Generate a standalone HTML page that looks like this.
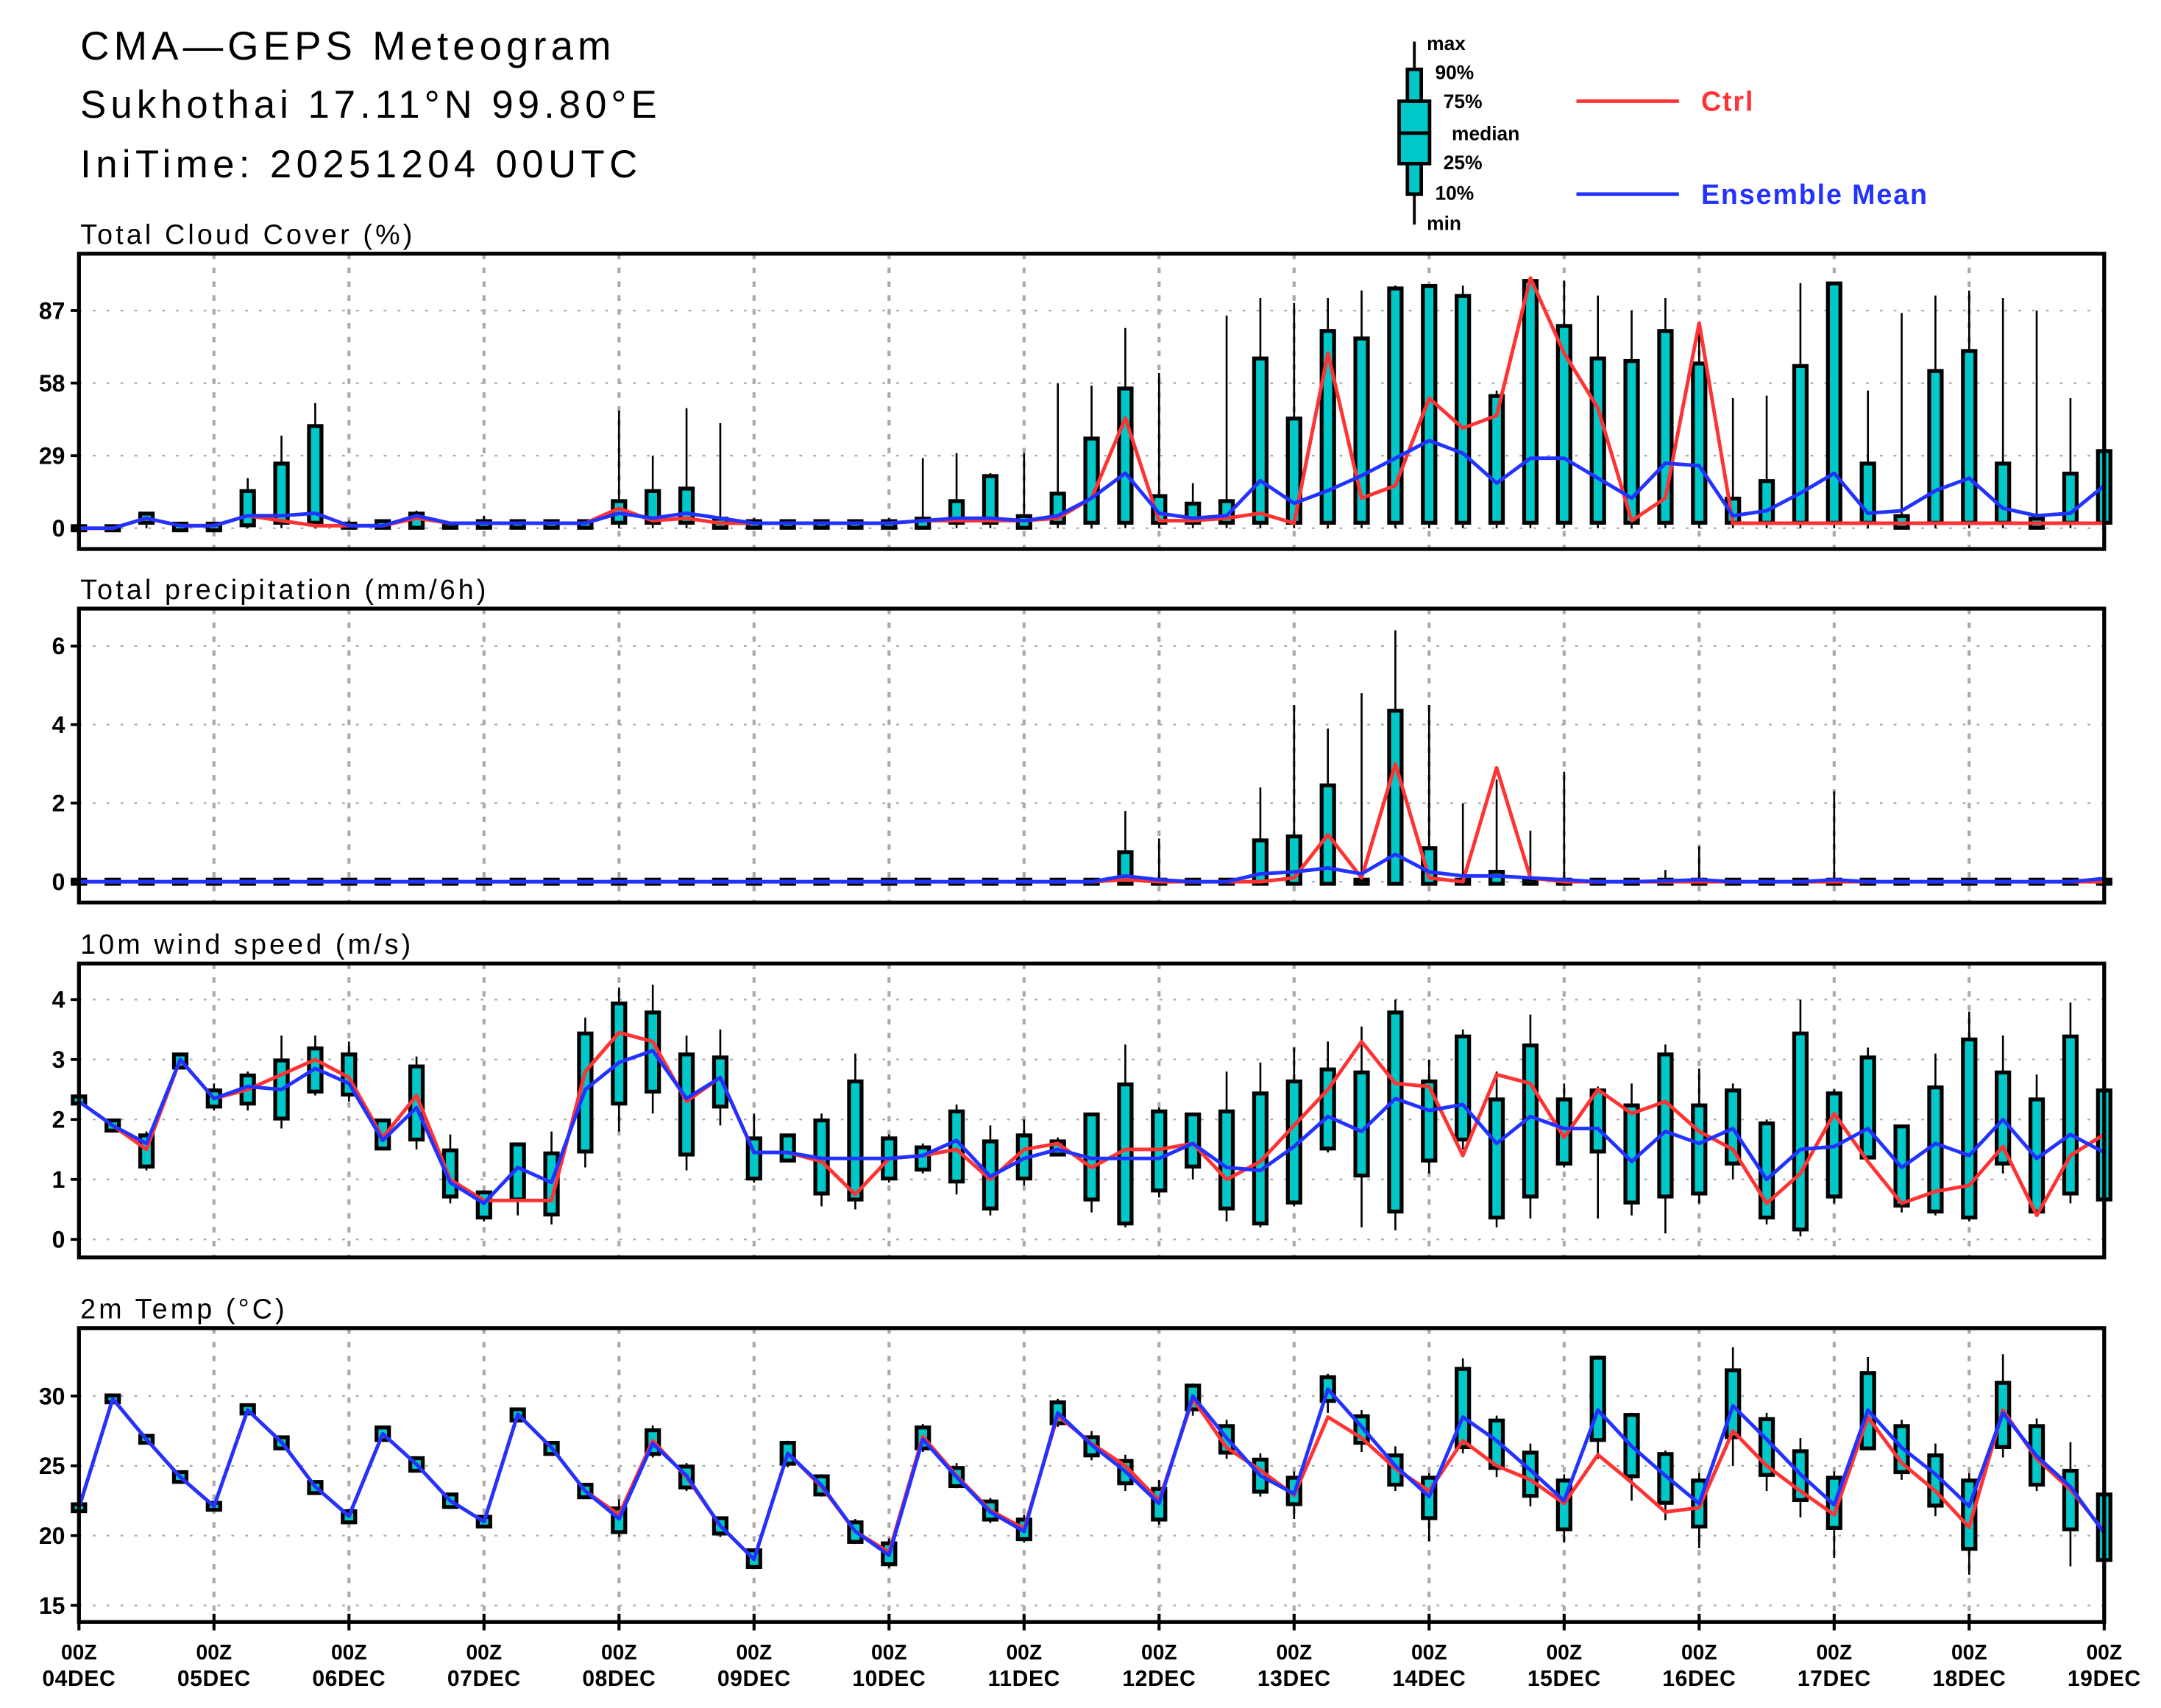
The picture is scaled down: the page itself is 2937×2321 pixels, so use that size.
<!DOCTYPE html>
<html><head><meta charset="utf-8"><style>
html,body{margin:0;padding:0;background:#fff;}
svg{display:block;font-family:"Liberation Sans",sans-serif;}
</style></head><body>
<svg id="chart" width="2937" height="2321" viewBox="0 0 1560 1232" preserveAspectRatio="none" xmlns="http://www.w3.org/2000/svg">
<text x="58" y="43" font-size="29" letter-spacing="3.2">CMA—GEPS Meteogram</text>
<text x="58" y="85" font-size="28" letter-spacing="3.2">Sukhothai 17.11°N 99.80°E</text>
<text x="58" y="128" font-size="28" letter-spacing="3.4">IniTime: 20251204 00UTC</text>
<g font-size="14" font-weight="bold">
<line x1="1021" y1="30" x2="1021" y2="162" stroke="#000" stroke-width="2"/>
<rect x="1016" y="50" width="10" height="90" fill="#00c8c8" stroke="#000" stroke-width="2.5"/>
<rect x="1010" y="73" width="22" height="45" fill="#00c8c8" stroke="#000" stroke-width="2.5"/>
<line x1="1010" y1="96" x2="1032" y2="96" stroke="#000" stroke-width="2.5"/>
<text x="1030" y="36">max</text><text x="1036" y="57">90%</text><text x="1042" y="78">75%</text>
<text x="1048" y="101">median</text><text x="1042" y="122">25%</text><text x="1036" y="144">10%</text><text x="1030" y="166">min</text>
</g>
<g><line x1="1138" y1="73" x2="1212" y2="73" stroke="#ff3333" stroke-width="2.5"/><text x="1228" y="80" font-size="20" font-weight="bold" fill="#ff3333" letter-spacing="1">Ctrl</text></g>
<g><line x1="1138" y1="140" x2="1212" y2="140" stroke="#2233ff" stroke-width="2.5"/><text x="1228" y="147" font-size="20" font-weight="bold" fill="#2233ff" letter-spacing="1">Ensemble Mean</text></g>
<g id="panels"></g>
</svg>
<script>
// ---- data (61 steps, 6-hourly from 04DEC 00Z) ----
const dayLabels=["04DEC","05DEC","06DEC","07DEC","08DEC","09DEC","10DEC","11DEC","12DEC","13DEC","14DEC","15DEC","16DEC","17DEC","18DEC","19DEC"];
const cloudTicks=[0,29,58,87];
const precipTicks=[0,2,4,6];
const windTicks=[0,1,2,3,4];
const tempTicks=[15,20,25,30];

const cloudCtrl=[0,0,4,1,1, 5,3,1,1,1, 4,2,2,2,2, 2,8,3,4,2, 2,2,2,2,2, 3,3,3,3,4, 12,44,3,3,4, 6,2,70,12,17, 52,40,45,100,70, 48,3,12,82,2, 2,2,2,2,2, 2,2,2,2,2, 2];
const cloudMean=[0,0,4,1,1, 5,5,6,1,1, 5,2,2,2,2, 2,6,4,6,4, 2,2,2,2,2, 3,4,4,3,5, 12,22,6,4,5, 19,10,15,21,28, 35,30,18,28,28, 20,12,26,25,5, 7,14,22,6,7, 15,20,8,5,6, 17];
const cloudMin=[0,0,0,0,0, 0,0,0,0,0, 0,0,0,0,0, 0,0,0,0,0, 0,0,0,0,0, 0,0,0,0,0, 0,0,0,0,0, 0,0,0,0,0, 0,0,0,0,0, 0,0,0,0,0, 0,0,0,0,0, 0,0,0,0,0, 0];
const cloudP25=[0,0,3,0,0, 2,3,3,1,1, 1,1,1,1,1, 1,3,3,3,1, 1,1,1,1,1, 1,3,3,1,3, 3,3,3,3,3, 3,3,3,3,3, 3,3,3,3,3, 3,3,3,3,3, 3,3,3,3,1, 3,3,3,1,3, 3];
const cloudP75=[0,0,5,1,1, 14,25,40,1,2, 5,1,2,2,2, 2,10,14,15,3, 2,2,2,2,2, 3,10,20,4,13, 35,55,12,9,10, 67,43,78,75,95, 96,92,52,98,80, 67,66,78,65,11, 18,64,97,25,4, 62,70,25,3,21, 30];
const cloudMax=[0,0,5,1,1, 20,37,50,3,2, 7,1,5,2,2, 2,47,29,48,42, 4,3,3,3,4, 28,30,22,30,58, 57,80,62,18,85, 92,90,92,95,97, 97,97,55,99,99, 93,87,92,82,52, 53,98,98,55,86, 93,95,92,87,52, 58];

const precCtrl=[0,0,0,0,0, 0,0,0,0,0, 0,0,0,0,0, 0,0,0,0,0, 0,0,0,0,0, 0,0,0,0,0, 0,0.05,0,0,0, 0,0.1,1.2,0.1,3.0, 0.1,0,2.9,0.1,0, 0,0,0,0,0, 0,0,0,0,0, 0,0,0,0,0, 0];
const precMean=[0,0,0,0,0, 0,0,0,0,0, 0,0,0,0,0, 0,0,0,0,0, 0,0,0,0,0, 0,0,0,0,0, 0,0.15,0.05,0,0, 0.2,0.25,0.35,0.2,0.7, 0.25,0.15,0.15,0.1,0.05, 0,0,0.02,0.05,0, 0,0,0.05,0,0, 0,0,0,0,0, 0.08];
const precMin=[0,0,0,0,0, 0,0,0,0,0, 0,0,0,0,0, 0,0,0,0,0, 0,0,0,0,0, 0,0,0,0,0, 0,0,0,0,0, 0,0,0,0,0, 0,0,0,0,0, 0,0,0,0,0, 0,0,0,0,0, 0,0,0,0,0, 0];
const precP25=precMin.slice();
const precP75=[0,0,0,0,0, 0,0,0,0,0, 0,0,0,0,0, 0,0,0,0,0, 0,0,0,0,0, 0,0,0,0,0, 0,0.7,0,0,0, 1.0,1.1,2.4,0,4.3, 0.8,0,0.2,0,0, 0,0,0,0,0, 0,0,0,0,0, 0,0,0,0,0, 0];
const precMax=[0,0,0,0,0, 0,0,0,0,0, 0,0,0,0,0, 0,0,0,0,0, 0,0,0,0,0, 0,0,0,0,0, 0,1.8,1.1,0,0, 2.4,4.5,3.9,4.8,6.4, 4.5,2.0,2.6,1.3,2.8, 0,0,0.3,0.9,0, 0,0,2.3,0,0, 0,0,0,0,0, 0];

const windCtrl=[2.3,1.9,1.5,3.0,2.35, 2.5,2.75,3.0,2.7,1.7, 2.4,1.0,0.65,0.65,0.65, 2.8,3.45,3.3,2.3,2.7, 1.45,1.45,1.3,0.75,1.35, 1.4,1.5,1.0,1.5,1.6, 1.2,1.5,1.5,1.6,1.0, 1.3,1.9,2.5,3.3,2.6, 2.55,1.4,2.75,2.6,1.7, 2.5,2.1,2.3,1.8,1.5, 0.6,1.1,2.1,1.3,0.6, 0.8,0.9,1.55,0.4,1.4, 1.75];
const windMean=[2.3,1.9,1.6,3.0,2.35, 2.55,2.5,2.85,2.6,1.65, 2.2,0.95,0.6,1.2,0.95, 2.5,2.95,3.15,2.35,2.7, 1.45,1.45,1.35,1.35,1.35, 1.4,1.65,1.05,1.35,1.5, 1.35,1.35,1.35,1.6,1.2, 1.15,1.55,2.05,1.8,2.35, 2.15,2.25,1.6,2.05,1.85, 1.85,1.3,1.8,1.6,1.85, 1.0,1.5,1.55,1.85,1.2, 1.6,1.4,2.0,1.35,1.75, 1.45];
const windMin=[2.25,1.8,1.15,2.85,2.15, 2.15,1.85,2.4,2.3,1.5, 1.5,0.6,0.3,0.4,0.25, 1.2,1.8,2.1,1.15,1.9, 0.95,1.3,0.55,0.5,0.95, 1.1,0.75,0.4,0.9,1.4, 0.45,0.2,0.7,1.0,0.3, 0.2,0.55,1.45,0.2,0.15, 1.1,1.5,0.2,0.35,1.2, 0.35,0.4,0.1,0.6,1.0, 0.25,0.05,0.6,1.3,0.45, 0.4,0.3,1.1,0.4,0.6, 0.6];
const windP25=[2.3,1.85,1.25,2.9,2.25, 2.3,2.05,2.5,2.45,1.55, 1.7,0.75,0.4,0.7,0.45, 1.5,2.3,2.5,1.45,2.25, 1.05,1.35,0.8,0.7,1.05, 1.2,1.0,0.55,1.05,1.45, 0.7,0.3,0.85,1.25,0.55, 0.3,0.65,1.55,1.1,0.5, 1.35,1.7,0.4,0.75,1.3, 1.5,0.65,0.75,0.8,1.3, 0.4,0.2,0.75,1.4,0.6, 0.5,0.4,1.3,0.5,0.8, 0.7];
const windP75=[2.35,1.95,1.7,3.05,2.45, 2.7,2.95,3.15,3.05,1.95, 2.85,1.45,0.75,1.55,1.4, 3.4,3.9,3.75,3.05,3.0, 1.65,1.7,1.95,2.6,1.65, 1.5,2.1,1.6,1.7,1.6, 2.05,2.55,2.1,2.05,2.1, 2.4,2.6,2.8,2.75,3.75, 2.6,3.35,2.3,3.2,2.3, 2.45,2.2,3.05,2.2,2.45, 1.9,3.4,2.4,3.0,1.85, 2.5,3.3,2.75,2.3,3.35, 2.45];
const windMax=[2.4,1.95,1.8,3.1,2.6, 2.8,3.4,3.4,3.3,2.0, 3.05,1.75,0.8,1.6,1.8, 3.7,4.2,4.25,3.4,3.5, 2.1,1.75,2.1,3.1,1.75, 1.6,2.25,1.9,2.0,1.7, 2.1,3.25,2.2,2.1,2.8, 2.95,3.2,3.3,3.55,4.0, 3.0,3.5,2.8,3.75,2.6, 2.55,2.6,3.25,2.85,2.6, 2.0,4.0,2.5,3.2,1.9, 3.1,3.8,3.4,2.75,3.95, 2.5];

const tempCtrl=[22,29.8,26.9,24.2,22.1, 29,26.7,23.5,21.4,27.3, 25.1,22.5,21,28.7,26.3, 23.2,21.5,26.8,24.2,20.7, 18.3,25.9,23.5,20.3,18.8, 27.1,24.3,21.8,20.5,28.6, 26.6,25,22.5,29.8,26.3, 24.7,22.9,28.5,27,24.8, 23.2,26.8,25,24,22.3, 25.8,23.8,21.7,22,27.5, 25,23.2,21.5,28.5,25.2, 23.2,20.6,29,25.5,23.3, 20.3];
const tempMean=[22,29.8,26.9,24.2,22.1, 29,26.7,23.5,21.4,27.3, 25.1,22.5,21,28.7,26.3, 23.2,21.2,26.6,24.3,20.7, 18.3,25.9,23.6,20.3,18.6, 26.9,24.2,21.7,20.3,28.8, 26.5,24.6,22.3,30,27, 24.3,23,30.5,27.8,25, 22.8,28.5,26.8,24.7,22.5, 29,26.4,24.3,22.3,29.3, 26.9,24.4,22.2,29,26.3, 24.4,22.1,28.8,25.7,23.5, 20.2];
const tempMin=[21.8,29.6,26.7,23.9,21.9, 28.8,26.2,23,21,26.8, 24.6,22.1,20.7,28.3,25.8, 22.7,19.9,25.6,23.2,19.9, 17.7,24.9,22.8,19.4,17.7, 26,23.4,20.9,19.5,27.8, 25.4,23.2,20.8,28.6,25.5, 22.8,21.2,28.8,26,23.2, 19.6,25.9,24.2,22.1,19.5, 25.5,22.5,21.1,19.1,25, 23.2,21.3,18.4,26.2,24, 21.4,17.2,25.6,23.2,17.8, 18];
const tempP25=[21.9,29.7,26.8,24,22, 28.9,26.4,23.2,21.1,27, 24.8,22.2,20.8,28.4,26, 22.9,20.4,26,23.6,20.3, 17.9,25.3,23.1,19.7,18.1, 26.4,23.7,21.3,19.9,28.2, 25.9,23.9,21.3,29.2,26.1, 23.3,22.4,29.8,26.8,23.8, 21.4,26.5,25,23,20.6, 27,24.4,22.5,20.8,27.2, 24.5,22.7,20.7,26.4,24.7, 22.3,19.2,26.5,23.8,20.6, 18.4];
const tempP75=[22.1,29.9,27,24.4,22.2, 29.2,26.9,23.7,21.6,27.6, 25.4,22.8,21.2,28.9,26.5, 23.5,21.8,27.4,24.8,21.1, 18.8,26.5,24.1,20.8,19.3, 27.6,24.7,22.3,21,29.4, 26.9,25.2,23.2,30.6,27.7, 25.3,24,31.2,28.4,25.6, 24,31.8,28.1,25.8,23.8, 32.6,28.5,25.7,23.8,31.7, 28.2,25.9,24,31.5,27.7, 25.6,23.8,30.8,27.7,24.5, 22.8];
const tempMax=[22.2,30,27.1,24.5,22.3, 29.3,27.1,23.9,21.8,27.8, 25.6,23,21.3,29,26.7, 23.7,22.6,27.9,25.2,21.3, 19,26.8,24.4,21.2,19.8, 28,25.2,22.7,21.5,29.8, 27.5,25.8,24,30.9,28.3, 25.9,24.6,31.6,29,26.4, 24.5,32.7,28.6,26.6,24.4, 32.9,28.8,26.1,24.5,33.5, 28.8,27,24.6,32.8,28.3, 26.6,24.5,33,28.4,26.7, 23.1];

// ---- layout ----
const NS="http://www.w3.org/2000/svg";
const X0=57,X1=1519,N=60;
const xAt=i=>X0+(X1-X0)*i/N;
const root=document.getElementById('panels');
function mk(tag,attrs,parent){const e=document.createElementNS(NS,tag);for(const k in attrs)e.setAttribute(k,attrs[k]);(parent||root).appendChild(e);return e;}

const panels=[
 {name:'cloud',title:'Total Cloud Cover (%)',top:183,bot:396,v0:0,y0:381,v1:87,y1:224,ticks:cloudTicks,ctrl:cloudCtrl,mean:cloudMean,mn:cloudMin,p25:cloudP25,p75:cloudP75,mx:cloudMax},
 {name:'precip',title:'Total precipitation (mm/6h)',top:439,bot:651,v0:0,y0:636,v1:6,y1:466,ticks:precipTicks,ctrl:precCtrl,mean:precMean,mn:precMin,p25:precP25,p75:precP75,mx:precMax},
 {name:'wind',title:'10m wind speed (m/s)',top:695,bot:907,v0:0,y0:894,v1:4,y1:721,ticks:windTicks,ctrl:windCtrl,mean:windMean,mn:windMin,p25:windP25,p75:windP75,mx:windMax},
 {name:'temp',title:'2m Temp (°C)',top:958,bot:1170,v0:15,y0:1158,v1:30,y1:1007,ticks:tempTicks,ctrl:tempCtrl,mean:tempMean,mn:tempMin,p25:tempP25,p75:tempP75,mx:tempMax}
];

panels.forEach((p,pi)=>{
 const yAt=v=>p.y0+(v-p.v0)*(p.y1-p.y0)/(p.v1-p.v0);
 const g=mk('g',{});
 
 
 const t=mk('text',{x:58,y:p.top-7,'font-size':20,'letter-spacing':'2.2'},g);
 t.textContent=p.title;
 
 
 p.ticks.forEach(v=>{
  const y=yAt(v);
  const gl=mk('line',{x1:X0,x2:X1,y1:y,y2:y,stroke:'#aaa','stroke-width':1.2,'stroke-dasharray':'2 8'},g);
  
  
  const tk=mk('line',{x1:X0-6,x2:X0,y1:y,y2:y,stroke:'#000','stroke-width':2},g);
  
  
  const tl=mk('text',{x:X0-10,y:y+6,'font-size':17,'font-weight':'bold','text-anchor':'end'},g);
  tl.textContent=v;
  
  
 });
 for(let d=1;d<dayLabels.length-1;d++){
  const x=xAt(d*4);
  const vg=mk('line',{x1:x,x2:x,y1:p.top,y2:p.bot,stroke:'#aaa','stroke-width':2.2,'stroke-dasharray':'4 6'},g);
  
  
 }
 for(let i=0;i<=N;i++){
  const x=xAt(i);
  const bg=mk('g',{},g);
  
  
  mk('line',{x1:x,x2:x,y1:yAt(p.mn[i]),y2:yAt(p.mx[i]),stroke:'#000','stroke-width':1.4},bg);
  const ya=yAt(p.p75[i]),yb=yAt(p.p25[i]);
  mk('rect',{x:x-4.5,y:Math.min(ya,yb)-1.5,width:9,height:Math.abs(yb-ya)+3,fill:'#00c8c8',stroke:'#000','stroke-width':2.8},bg);
 }
 const pts=a=>a.map((v,i)=>xAt(i).toFixed(1)+','+yAt(v).toFixed(1)).join(' ');
 const cl=mk('polyline',{points:pts(p.ctrl),fill:'none',stroke:'#ff3333','stroke-width':2.6,'stroke-linejoin':'round'},g);
 
 
 const ml=mk('polyline',{points:pts(p.mean),fill:'none',stroke:'#2233ff','stroke-width':2.6,'stroke-linejoin':'round'},g);
 
 
 const fr=mk('rect',{x:X0,y:p.top,width:X1-X0,height:p.bot-p.top,fill:'none',stroke:'#000','stroke-width':2.8},g);
 
 
 if(pi===3){
  dayLabels.forEach((lab,d)=>{
   const x=xAt(d*4);
   const tk=mk('line',{x1:x,x2:x,y1:p.bot-6,y2:p.bot+6,stroke:'#000','stroke-width':2.2},g);
   
   
   const t1=mk('text',{x:x,y:p.bot+27,'font-size':15,'font-weight':'bold','text-anchor':'middle'},g);
   t1.textContent='00Z';
   
   
   const t2=mk('text',{x:x,y:p.bot+46,'font-size':16,'font-weight':'bold','text-anchor':'middle','letter-spacing':'0.3'},g);
   t2.textContent=lab;
   
   
  });
 }
});
</script>
</body></html>
